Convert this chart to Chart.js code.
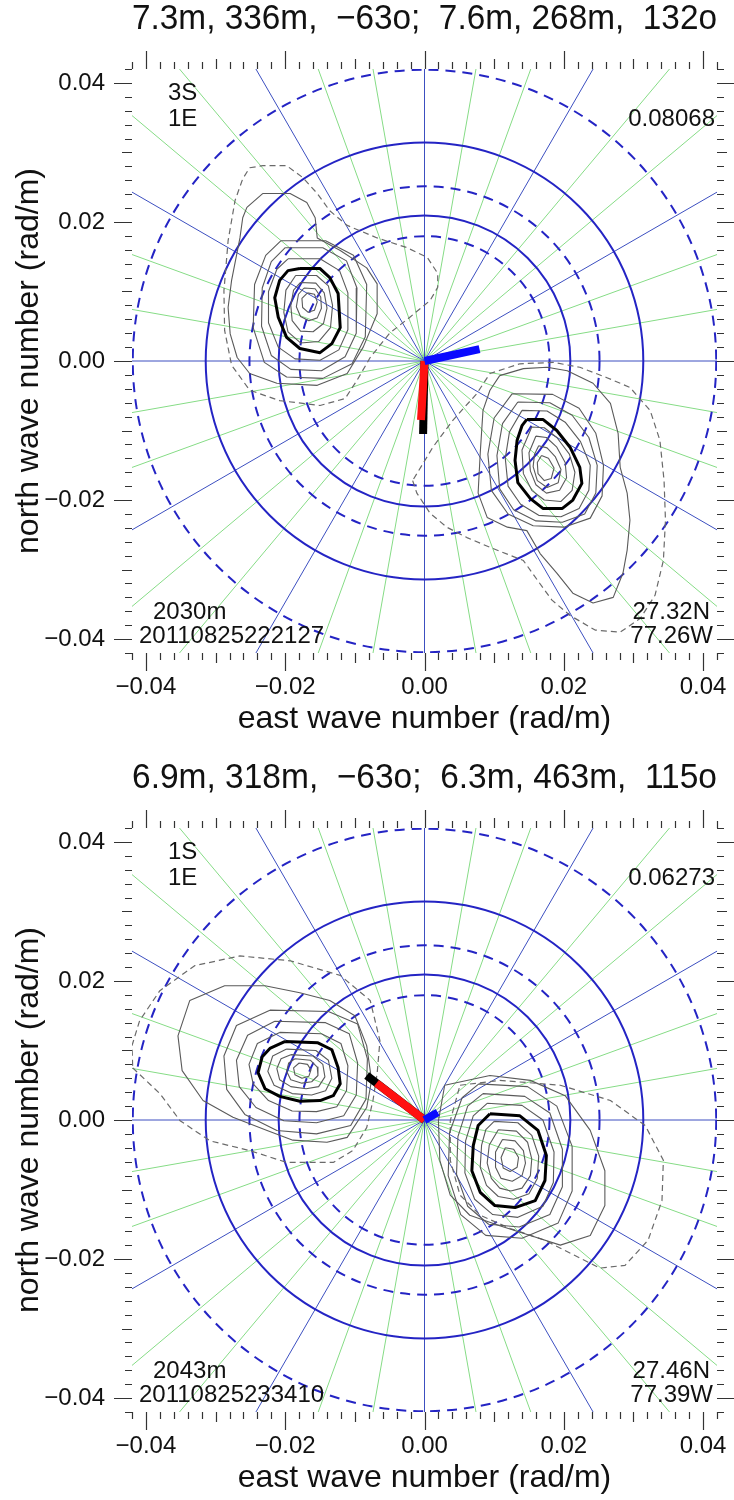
<!DOCTYPE html>
<html>
<head>
<meta charset="utf-8">
<script src="https://cdn.jsdelivr.net/npm/chart.js@4.4.1/dist/chart.umd.min.js"></script>
<style>
  html, body { margin: 0; padding: 0; background: #fff; overflow: hidden; }
  .panel { position: absolute; left: 0; width: 734px; height: 759px; }
</style>
</head>
<body>
<div class="panel" style="top:0"><canvas id="topChart" width="734" height="759"></canvas></div>
<div class="panel" style="top:759px"><canvas id="bottomChart" width="734" height="759"></canvas></div>
<script>
// contour and vector coordinates below are in 1e-3 rad/m
const axisMin = -0.042, axisMax = 0.042;
const labelTicks = [-0.04, -0.02, 0, 0.02, 0.04];
const guideWavelengths = [150, 200, 250, 300, 350];   // metres
const dashedWavelengths = [150, 250, 350];
const spokeStepDeg = 10;

// ---- top panel ----
const topTitle = '7.3m, 336m,  \u221263o;  7.6m, 268m,  132o';
const topUpperLeft = ['3S', '1E'];
const topUpperRight = '0.08068';
const topLowerLeft = ['2030m', '20110825222127'];
const topLowerRight = ['27.32N', '77.26W'];

const topLeftDashed = [[-25.1,27.8],[-23.2,28.1],[-19.8,28.1],[-17.5,26.4],[-15.4,24.1],[-13.6,21.6],[-11.1,19.5],[-6.8,17.7],[-2.5,16.3],[0.4,14.9],[1.9,12.6],[1.9,10.6],[0.8,8.7],[-2.1,6.3],[-5.0,4.0],[-7.8,0.5],[-9.7,-2.8],[-11.4,-5.4],[-15.0,-6.4],[-20.8,-5.7],[-25.1,-4.2],[-27.7,-0.6],[-28.7,4.4],[-28.8,10.1],[-28.2,17.3],[-27.2,23.1],[-26.1,26.2]];
const topLeftOuter = [[-23.2,24.1],[-19.3,24.1],[-16.9,22.8],[-15.7,20.6],[-15.4,17.7],[-12.1,15.9],[-8.3,13.4],[-6.8,11.1],[-6.8,6.8],[-8.8,2.0],[-11.1,-1.8],[-15.4,-3.5],[-21.2,-3.2],[-25.1,-1.8],[-26.9,0.5],[-27.9,3.9],[-28.2,7.7],[-27.7,11.6],[-26.5,17.7],[-26.1,20.6],[-25.5,22.1]];
const topLeftRings = [
  [[-20.6,17.3],[-14.2,17.3],[-10.2,15.2],[-8.3,11.0],[-8.5,3.5],[-10.4,-0.4],[-14.6,-2.5],[-19.8,-2.3],[-23.0,-0.2],[-24.6,4.8],[-24.4,11.0],[-22.8,15.2]],
  [[-20.0,16.3],[-14.6,16.3],[-11.2,14.4],[-9.7,10.5],[-9.8,4.0],[-11.4,0.6],[-14.8,-1.4],[-19.2,-1.2],[-22.0,0.8],[-23.4,5.0],[-23.3,10.5],[-22.0,14.3]],
  [[-19.6,14.7],[-15.0,14.7],[-12.2,13.0],[-11.0,9.8],[-11.0,4.5],[-12.3,1.6],[-15.0,0.1],[-18.6,0.3],[-21.0,2.0],[-22.4,5.5],[-22.4,10.0],[-21.2,13.2]],
  [[-18.5,12.3],[-15.5,12.3],[-13.8,10.8],[-13.2,8.0],[-13.5,4.8],[-15.2,2.8],[-17.8,2.6],[-19.6,4.2],[-20.2,7.0],[-19.9,10.2]],
  [[-17.8,11.3],[-15.6,11.2],[-14.4,9.8],[-14.0,7.6],[-14.5,5.4],[-16.0,4.2],[-17.8,4.3],[-19.0,5.8],[-19.2,8.0],[-18.8,10.2]],
  [[-17.3,10.5],[-15.7,10.4],[-14.9,9.2],[-14.8,7.6],[-15.4,6.2],[-16.6,5.8],[-17.8,6.4],[-18.4,7.8],[-18.1,9.6]],
  [[-16.8,9.8],[-15.8,9.6],[-15.4,8.5],[-15.8,7.3],[-16.7,7.0],[-17.5,7.7],[-17.6,9.0]]
];
const topLeftThick = [[-17.9,13.3],[-15.0,13.3],[-13.6,12.0],[-12.4,9.7],[-12.1,4.8],[-13.3,2.5],[-15.0,1.2],[-17.9,1.8],[-19.8,3.4],[-21.0,6.3],[-21.5,9.1],[-20.8,11.6],[-19.6,13.0]];

const topRightDashed = [[-1.7,-17.2],[-1.1,-19.0],[0.8,-21.9],[3.2,-23.9],[6.1,-25.4],[9.4,-26.8],[14.2,-28.7],[16.2,-31.5],[18.3,-34.4],[20.9,-36.6],[24.5,-38.7],[28.1,-39.0],[31.0,-37.0],[33.1,-33.7],[34.3,-28.7],[34.6,-22.9],[34.4,-17.2],[33.8,-11.4],[32.4,-7.1],[29.5,-3.8],[26.2,-2.4],[22.3,-0.9],[18.5,-0.2],[13.7,-0.4],[9.4,-1.8],[7.5,-4.7],[4.1,-8.5],[1.2,-12.4]];
const topRightOuter = [[10.8,-2.1],[14.2,-1.1],[17.6,-0.9],[20.5,-1.4],[24.2,-3.2],[26.7,-6.1],[27.8,-10.4],[28.1,-15.3],[29.1,-19.0],[29.5,-22.9],[29.1,-27.2],[28.5,-30.5],[27.1,-34.0],[24.2,-34.8],[21.3,-33.4],[19.0,-30.5],[16.6,-27.7],[14.7,-24.4],[11.9,-23.9],[9.0,-22.5],[7.7,-19.0],[8.0,-13.3],[8.4,-7.1],[9.4,-4.2]];
const topRightRings = [
  [[12.6,-4.7],[18.4,-4.8],[22.2,-6.8],[24.6,-10.4],[25.7,-15.0],[25.5,-19.4],[23.8,-22.6],[20.0,-23.9],[15.6,-23.7],[12.0,-22.0],[9.6,-18.6],[9.1,-13.4],[10.0,-8.2]],
  [[13.4,-5.9],[18.0,-6.0],[21.2,-7.8],[23.6,-11.0],[24.8,-15.0],[24.6,-19.0],[23.0,-22.0],[19.8,-23.2],[16.0,-23.0],[12.8,-21.4],[10.8,-18.4],[10.4,-13.6],[11.2,-9.0]],
  [[14.0,-7.1],[17.6,-7.2],[20.2,-8.8],[22.4,-11.6],[23.8,-15.0],[23.6,-18.6],[22.2,-21.2],[19.6,-22.4],[16.4,-22.2],[13.8,-20.6],[12.0,-18.0],[11.6,-14.0],[12.2,-10.2]],
  [[15.4,-9.5],[17.2,-9.6],[19.0,-11.0],[20.8,-13.4],[21.6,-16.0],[21.2,-18.6],[19.6,-20.2],[17.2,-20.0],[15.4,-18.6],[14.2,-16.2],[14.0,-12.8]],
  [[16.0,-10.8],[17.5,-11.0],[19.0,-12.4],[20.2,-14.6],[20.4,-16.8],[19.4,-18.6],[17.5,-19.0],[16.0,-17.8],[15.2,-15.8],[15.0,-13.2]],
  [[16.4,-12.2],[17.6,-12.5],[18.8,-13.8],[19.6,-15.6],[19.2,-17.5],[17.6,-18.2],[16.2,-17.2],[15.6,-15.2],[15.8,-13.4]],
  [[16.8,-13.6],[17.8,-14.0],[18.6,-15.4],[18.2,-16.9],[17.2,-17.2],[16.3,-16.2],[16.2,-14.6]]
];
const topRightThick = [[14.7,-8.4],[17.0,-8.4],[19.0,-10.0],[20.9,-12.4],[22.3,-15.3],[22.6,-17.6],[21.3,-20.0],[19.8,-21.2],[17.0,-21.2],[15.2,-19.8],[13.4,-17.5],[13.0,-14.3],[13.3,-11.4],[14.0,-9.3]];

const topBlackVec = [[0, 0], [-0.2, -10.5]];
const topRedVec = [[0, 0], [-0.5, -8.5]];
const topBlueVec = [[0, 0], [7.9, 1.7]];

// ---- bottom panel ----
const bottomTitle = '6.9m, 318m,  \u221263o;  6.3m, 463m,  115o';
const bottomUpperLeft = ['1S', '1E'];
const bottomUpperRight = '0.06273';
const bottomLowerLeft = ['2043m', '20110825233410'];
const bottomLowerRight = ['27.46N', '77.39W'];

const bottomLeftDashed = [[-41.9,7.5],[-38.0,3.8],[-35.1,-0.1],[-30.8,-3.0],[-25.1,-4.4],[-19.8,-6.1],[-13.1,-6.1],[-10.3,-4.4],[-8.3,-1.1],[-7.4,2.8],[-6.8,6.7],[-6.4,11.4],[-7.8,17.2],[-12.1,20.8],[-19.3,22.9],[-26.5,23.6],[-33.0,22.2],[-38.0,18.6],[-40.9,14.3],[-42.0,10.7]];
const bottomLeftOuter = [[-33.7,17.2],[-28.7,19.3],[-22.9,19.3],[-17.9,18.3],[-13.6,17.2],[-10.0,15.0],[-8.3,10.7],[-7.6,5.7],[-8.3,1.8],[-11.1,-2.5],[-14.0,-3.2],[-18.9,-2.9],[-22.6,-1.5],[-27.5,0.4],[-31.8,2.8],[-34.8,7.1],[-35.4,12.1]];
const bottomLeftRings = [
  [[-22.2,15.8],[-13.8,15.6],[-9.6,13.8],[-8.2,8.8],[-8.4,3.0],[-10.6,-0.8],[-15.5,-2.0],[-21.2,-1.5],[-25.8,0.8],[-28.4,4.4],[-28.8,9.2],[-27.0,13.6]],
  [[-21.5,14.2],[-14.2,14.0],[-10.8,12.4],[-9.6,8.2],[-9.8,3.6],[-11.6,0.6],[-15.5,-0.4],[-20.2,-0.1],[-24.2,1.8],[-26.6,4.8],[-27.0,8.6],[-25.4,12.2]],
  [[-20.8,12.6],[-14.8,12.4],[-12.0,11.0],[-11.0,7.8],[-11.2,4.2],[-12.6,1.9],[-15.5,1.2],[-19.0,1.3],[-22.4,2.8],[-24.6,5.2],[-25.2,8.0],[-24.0,11.0]],
  [[-19.8,10.2],[-15.6,10.0],[-13.8,8.6],[-13.3,6.0],[-14.2,4.2],[-16.2,3.6],[-19.0,3.8],[-21.6,5.0],[-22.5,7.0],[-21.8,9.2]],
  [[-19.2,9.4],[-16.0,9.2],[-14.6,8.0],[-14.3,6.2],[-15.2,4.8],[-17.0,4.5],[-19.2,4.8],[-20.8,5.8],[-21.2,7.4],[-20.6,8.8]],
  [[-18.6,8.8],[-16.4,8.6],[-15.4,7.6],[-15.3,6.4],[-16.2,5.5],[-17.6,5.3],[-19.2,5.8],[-19.8,7.0],[-19.5,8.2]],
  [[-18.0,8.2],[-16.8,8.0],[-16.3,7.2],[-16.6,6.3],[-17.6,6.0],[-18.6,6.5],[-18.8,7.5]]
];
const bottomLeftThick = [[-20.0,11.3],[-15.3,11.1],[-13.3,10.1],[-12.4,7.5],[-12.1,5.2],[-13.1,3.5],[-15.0,2.8],[-17.9,2.7],[-20.8,3.4],[-22.9,4.5],[-23.9,6.8],[-23.3,9.1],[-22.2,10.3]];

const bottomRightDashed = [[5.1,5.0],[10.8,5.7],[19.5,5.0],[26.7,2.8],[31.7,-0.8],[34.3,-5.8],[34.1,-11.6],[32.1,-17.3],[28.8,-20.9],[25.2,-21.3],[21.6,-19.5],[17.3,-17.3],[12.3,-15.6],[8.0,-13.7],[5.1,-10.8],[3.7,-5.8],[3.7,-0.1]];
const bottomRightOuter = [[2.9,5.0],[9.4,6.4],[15.2,5.7],[20.2,3.5],[23.8,-1.5],[25.9,-7.3],[25.9,-12.3],[23.8,-16.6],[19.5,-18.0],[15.2,-16.6],[10.8,-15.2],[6.5,-13.7],[3.7,-10.8],[2.2,-5.8],[2.0,-0.1]];
const bottomRightRings = [
  [[7.8,5.2],[14.8,4.8],[19.0,2.0],[21.2,-3.8],[21.2,-10.2],[19.2,-14.8],[14.0,-17.0],[8.8,-16.6],[5.2,-13.6],[3.4,-8.0],[3.6,-1.8],[5.4,3.2]],
  [[8.4,3.8],[14.4,3.4],[18.0,1.0],[19.8,-4.2],[19.8,-9.6],[18.0,-13.6],[13.6,-15.4],[9.2,-15.0],[6.2,-12.4],[4.6,-7.8],[4.8,-2.4],[6.2,2.0]],
  [[9.0,2.4],[14.0,2.1],[17.0,0.0],[18.6,-4.6],[18.5,-9.0],[17.0,-12.4],[13.4,-14.0],[9.8,-13.6],[7.2,-11.4],[5.8,-7.6],[5.9,-3.0],[7.0,0.6]],
  [[10.0,-0.2],[13.4,-0.4],[15.4,-2.2],[16.4,-5.2],[16.2,-8.4],[15.0,-10.6],[12.8,-11.4],[10.6,-11.0],[8.9,-9.4],[8.0,-6.8],[8.2,-3.6],[8.8,-1.4]],
  [[10.6,-1.4],[13.2,-1.6],[14.8,-3.2],[15.4,-5.6],[15.2,-8.0],[14.0,-9.8],[12.4,-10.2],[10.8,-9.8],[9.6,-8.4],[9.0,-6.2],[9.3,-3.6]],
  [[11.2,-2.8],[13.0,-3.0],[14.2,-4.4],[14.5,-6.2],[14.0,-8.0],[12.6,-8.8],[11.0,-8.4],[10.2,-6.8],[10.2,-4.6]],
  [[11.6,-4.0],[12.8,-4.2],[13.5,-5.4],[13.3,-6.8],[12.3,-7.4],[11.3,-6.9],[11.0,-5.4]]
];
const bottomRightThick = [[9.4,0.9],[13.7,0.6],[16.3,-1.5],[17.5,-5.1],[17.3,-8.7],[15.9,-11.6],[13.0,-12.6],[10.1,-12.3],[8.0,-10.4],[6.8,-7.3],[7.0,-3.7],[7.7,-0.8]];

const bottomBlackVec = [[0, 0], [-8.3, 6.4]];
const bottomRedVec = [[0, 0], [-6.9, 5.3]];
const bottomBlueVec = [[0, 0], [1.9, 1.1]];

const fontFamily = '"Liberation Sans", Arial, sans-serif';

function toXY(points) {
  return points.map(p => ({ x: p[0] / 1000, y: p[1] / 1000 }));
}

function ringSet(points, color, width, dash) {
  return {
    data: toXY(points.concat([points[0]])),
    showLine: true,
    borderColor: color,
    borderWidth: width,
    borderDash: dash || [],
    borderJoinStyle: 'round',
    pointRadius: 0,
    tension: 0
  };
}

function vecSet(points, color) {
  return {
    data: toXY(points),
    showLine: true,
    borderColor: color,
    borderWidth: 8,
    borderCapStyle: 'butt',
    pointRadius: 0
  };
}

// blue/green spokes and the wavelength circles, behind the contours
const polarGuides = {
  id: 'polarGuides',
  beforeDatasetsDraw(chart) {
    const { ctx, chartArea: a, scales: { x, y } } = chart;
    const cx = x.getPixelForValue(0), cy = y.getPixelForValue(0);
    const reach = 2 * Math.max(a.width, a.height);
    ctx.save();
    ctx.beginPath();
    ctx.rect(a.left, a.top, a.width, a.height);
    ctx.clip();
    ctx.lineWidth = 1;
    [false, true].forEach(blue => {
      ctx.strokeStyle = blue ? '#3c4fc0' : '#86dc86';
      ctx.beginPath();
      for (let deg = 0; deg < 180; deg += spokeStepDeg) {
        if ((deg % 30 === 0) !== blue) continue;
        const r = deg * Math.PI / 180;
        const dx = Math.sin(r) * reach, dy = Math.cos(r) * reach;
        ctx.moveTo(cx - dx, cy + dy);
        ctx.lineTo(cx + dx, cy - dy);
      }
      ctx.stroke();
    });
    ctx.strokeStyle = '#2424c4';
    ctx.lineWidth = 2;
    guideWavelengths.forEach(L => {
      const k = 2 * Math.PI / L;
      const rx = x.getPixelForValue(k) - cx;
      const ry = cy - y.getPixelForValue(k);
      ctx.setLineDash(dashedWavelengths.includes(L) ? [10, 7] : []);
      ctx.beginPath();
      ctx.ellipse(cx, cy, rx, ry, 0, 0, 2 * Math.PI);
      ctx.stroke();
    });
    ctx.restore();
  }
};

// outward tick marks on all four sides, every 0.002 rad/m
const frameTicks = {
  id: 'frameTicks',
  afterDraw(chart) {
    const { ctx, chartArea: a, scales: { x, y } } = chart;
    ctx.save();
    ctx.strokeStyle = '#333';
    ctx.lineWidth = 1.2;
    ctx.beginPath();
    for (let i = -21; i <= 21; i++) {
      const len = i % 10 === 0 ? 18 : (i % 5 === 0 ? 10 : 7);
      const px = Math.round(x.getPixelForValue(i * 0.002)) + 0.5;
      const py = Math.round(y.getPixelForValue(i * 0.002)) + 0.5;
      ctx.moveTo(px, a.bottom); ctx.lineTo(px, a.bottom + len);
      ctx.moveTo(px, a.top); ctx.lineTo(px, a.top - len);
      ctx.moveTo(a.left, py); ctx.lineTo(a.left - len, py);
      ctx.moveTo(a.right, py); ctx.lineTo(a.right + len, py);
    }
    ctx.stroke();
    ctx.restore();
  }
};

// corner texts inside the plot
const panelNotes = {
  id: 'panelNotes',
  afterDraw(chart, args, o) {
    const { ctx, chartArea: a } = chart;
    ctx.save();
    ctx.font = '24px ' + fontFamily;
    ctx.fillStyle = '#111';
    ctx.textBaseline = 'middle';
    ctx.textAlign = 'left';
    ctx.fillText(o.upperLeft[0], a.left + 36, a.top + 24);
    ctx.fillText(o.upperLeft[1], a.left + 36, a.top + 50);
    ctx.fillText(o.lowerLeft[0], a.left + 21, a.bottom - 41);
    ctx.fillText(o.lowerLeft[1], a.left + 7, a.bottom - 17);
    ctx.textAlign = 'right';
    ctx.fillText(o.upperRight, a.right - 2, a.top + 50);
    ctx.fillText(o.lowerRight[0], a.right - 7, a.bottom - 41);
    ctx.fillText(o.lowerRight[1], a.right - 4, a.bottom - 17);
    ctx.restore();
  }
};

function tickLabel(v) {
  return (v < 0 ? '\u2212' : '') + Math.abs(v).toFixed(2);
}

function makePanel(id, p) {
  const thin = '#5a5a5a';
  // Chart.js paints the first dataset last, so list from top layer down
  const datasets = [
    vecSet(p.blueVec, '#0a0aff'),
    vecSet(p.redVec, '#ff1010'),
    vecSet(p.blackVec, '#000'),
    ringSet(p.leftThick, '#000', 3),
    ringSet(p.rightThick, '#000', 3)
  ];
  p.leftRings.forEach(r => datasets.push(ringSet(r, thin, 1.1)));
  p.rightRings.forEach(r => datasets.push(ringSet(r, thin, 1.1)));
  datasets.push(ringSet(p.leftOuter, thin, 1.1));
  datasets.push(ringSet(p.rightOuter, thin, 1.1));
  datasets.push(ringSet(p.leftDashed, '#6a6a6a', 1.2, [6, 4]));
  datasets.push(ringSet(p.rightDashed, '#6a6a6a', 1.2, [6, 4]));

  return new Chart(document.getElementById(id), {
    type: 'scatter',
    data: { datasets },
    plugins: [polarGuides, frameTicks, panelNotes],
    options: {
      responsive: false,
      animation: false,
      events: [],
      layout: { padding: { top: 0, left: 0, right: 17, bottom: 0 } },
      plugins: {
        legend: { display: false },
        tooltip: { enabled: false },
        title: {
          display: true,
          fullSize: false,
          text: p.title,
          color: '#111',
          font: { family: fontFamily, size: 35, weight: 'normal', lineHeight: 1.1 },
          padding: { top: 0, bottom: 30.5 }
        },
        panelNotes: p.notes
      },
      scales: {
        x: {
          type: 'linear',
          position: 'bottom',
          min: axisMin,
          max: axisMax,
          grid: { display: false, drawTicks: false },
          border: { display: false },
          afterBuildTicks: s => { s.ticks = labelTicks.map(v => ({ value: v })); },
          afterFit: s => { s.height = 106; s.paddingLeft = 0; s.paddingRight = 0; },
          ticks: {
            autoSkip: false, maxRotation: 0, padding: 20, color: '#111',
            font: { family: fontFamily, size: 24 },
            callback: v => tickLabel(v)
          },
          title: {
            display: true, text: 'east wave number (rad/m)', color: '#111',
            font: { family: fontFamily, size: 32 },
            padding: { top: 0, bottom: 21 }
          }
        },
        y: {
          type: 'linear',
          position: 'left',
          min: axisMin,
          max: axisMax,
          grid: { display: false, drawTicks: false },
          border: { display: false },
          afterBuildTicks: s => { s.ticks = labelTicks.map(v => ({ value: v })); },
          afterFit: s => { s.width = 132; s.paddingTop = 0; s.paddingBottom = 0; },
          ticks: {
            autoSkip: false, padding: 27, color: '#111',
            font: { family: fontFamily, size: 24 },
            callback: v => tickLabel(v)
          },
          title: {
            display: true, text: 'north wave number (rad/m)', color: '#111',
            font: { family: fontFamily, size: 32 },
            padding: { top: 10, bottom: 0 }
          }
        }
      }
    }
  });
}

makePanel('topChart', {
  title: topTitle,
  notes: { upperLeft: topUpperLeft, upperRight: topUpperRight, lowerLeft: topLowerLeft, lowerRight: topLowerRight },
  leftDashed: topLeftDashed, leftOuter: topLeftOuter, leftRings: topLeftRings, leftThick: topLeftThick,
  rightDashed: topRightDashed, rightOuter: topRightOuter, rightRings: topRightRings, rightThick: topRightThick,
  blackVec: topBlackVec, redVec: topRedVec, blueVec: topBlueVec
});

makePanel('bottomChart', {
  title: bottomTitle,
  notes: { upperLeft: bottomUpperLeft, upperRight: bottomUpperRight, lowerLeft: bottomLowerLeft, lowerRight: bottomLowerRight },
  leftDashed: bottomLeftDashed, leftOuter: bottomLeftOuter, leftRings: bottomLeftRings, leftThick: bottomLeftThick,
  rightDashed: bottomRightDashed, rightOuter: bottomRightOuter, rightRings: bottomRightRings, rightThick: bottomRightThick,
  blackVec: bottomBlackVec, redVec: bottomRedVec, blueVec: bottomBlueVec
});
</script>
</body>
</html>
